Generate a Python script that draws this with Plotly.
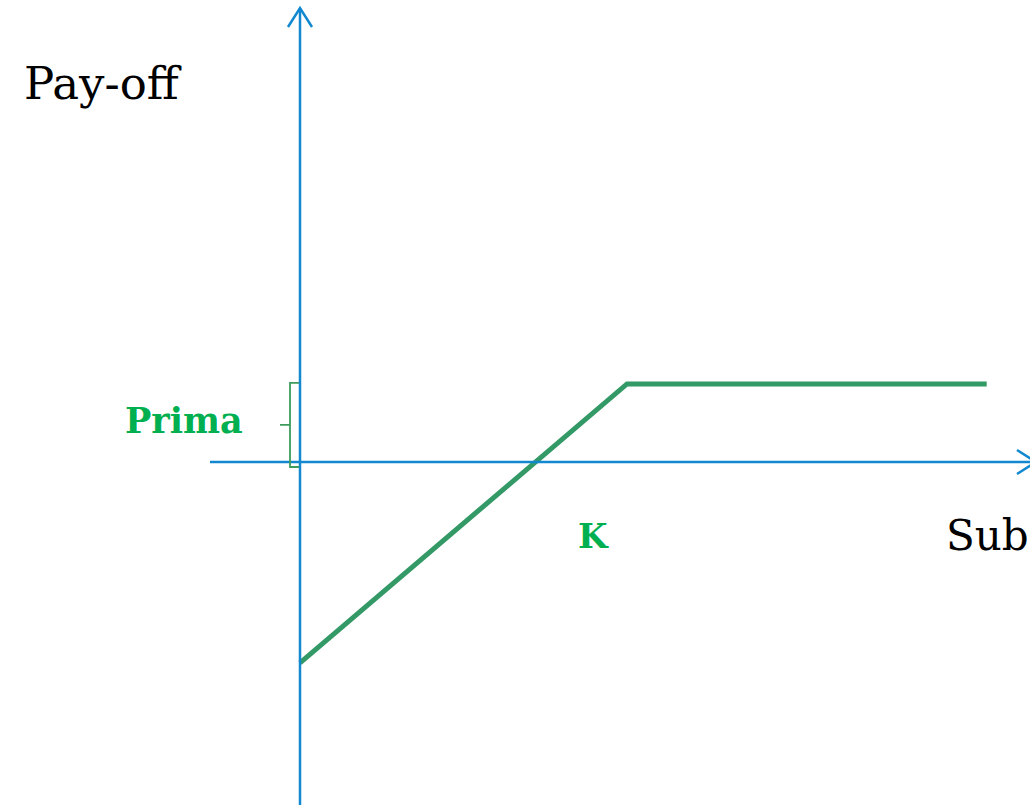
import plotly.graph_objects as go

# Payoff of a short put: premium - max(K - S, 0)
strike = 100
premium = 28
spot = [0, 100, 210]
payoff = [premium - max(strike - s, 0) for s in spot]

axis_blue = "#1188d0"
line_green = "#339966"
text_green = "#00b050"

# pixel scale of the picture (data units -> px)
W, H = 1030, 805
x0_px, y0_px = 300, 462
sx, sy = 3.27, 2.79
xr = [-x0_px / sx, (W - x0_px) / sx]
yr = [-(H - y0_px) / sy, y0_px / sy]

fig = go.Figure()

fig.add_trace(go.Scatter(x=spot, y=payoff, mode="lines",
                         line=dict(color=line_green, width=5),
                         hoverinfo="skip", showlegend=False))

shapes = []
# axes
shapes.append(dict(type="line", xref="x", yref="y", x0=-90 / sx, x1=736 / sx,
                   y0=0, y1=0, line=dict(color=axis_blue, width=2.5)))
shapes.append(dict(type="line", xref="x", yref="y", x0=0, x1=0,
                   y0=yr[0], y1=454 / sy, line=dict(color=axis_blue, width=2.5)))
# arrow heads (open chevrons)
top = 454 / sy
shapes.append(dict(type="path", xref="x", yref="y",
                   path=f"M {-12 / sx},{top - 19 / sy} L 0,{top} L {12 / sx},{top - 19 / sy}",
                   line=dict(color=axis_blue, width=2.5)))
right = 736 / sx
shapes.append(dict(type="path", xref="x", yref="y",
                   path=f"M {right - 19 / sx},{12 / sy} L {right},0 L {right - 19 / sx},{-12 / sy}",
                   line=dict(color=axis_blue, width=2.5)))
# brace showing the premium
bx = -10 / sx
hx = -1 / sx
tip = -20 / sx
mid = premium * 0.5 - 2 / sy
shapes.append(dict(type="path", xref="x", yref="y",
                   path=(f"M {hx},{premium + 1 / sy} L {bx},{premium + 1 / sy} L {bx},{mid} "
                         f"L {tip},{mid} L {bx},{mid} L {bx},{-5 / sy} L {hx},{-5 / sy}"),
                   line=dict(color="#3d9c5c", width=1.8)))

annotations = [
    dict(text="Pay-off", x=22 / W, y=1 - 83 / H, xref="paper", yref="paper",
         xanchor="left", yanchor="middle", showarrow=False,
         font=dict(family="DejaVu Serif", size=45, color="black")),
    dict(text="Sub", x=944 / W, y=1 - 535 / H, xref="paper", yref="paper",
         xanchor="left", yanchor="middle", showarrow=False,
         font=dict(family="DejaVu Serif", size=42, color="black")),
    dict(text="<b>Prima</b>", x=123 / W, y=1 - 420 / H, xref="paper", yref="paper",
         xanchor="left", yanchor="middle", showarrow=False,
         font=dict(family="DejaVu Serif", size=35, color=text_green)),
    dict(text="<b>K</b>", x=strike, y=1 - 536 / H, xref="x", yref="paper",
         xanchor="center", yanchor="middle", showarrow=False, xshift=-34,
         font=dict(family="DejaVu Serif", size=34, color=text_green)),
]

fig.update_layout(
    width=W, height=H,
    margin=dict(l=0, r=0, t=0, b=0),
    paper_bgcolor="white", plot_bgcolor="white",
    xaxis=dict(range=xr, visible=False, fixedrange=True),
    yaxis=dict(range=yr, visible=False, fixedrange=True),
    shapes=shapes,
    annotations=annotations,
)

fig.write_html("out.html", config={"displayModeBar": False},
               post_script="document.body.style.margin='0px';document.body.style.overflow='hidden';")
